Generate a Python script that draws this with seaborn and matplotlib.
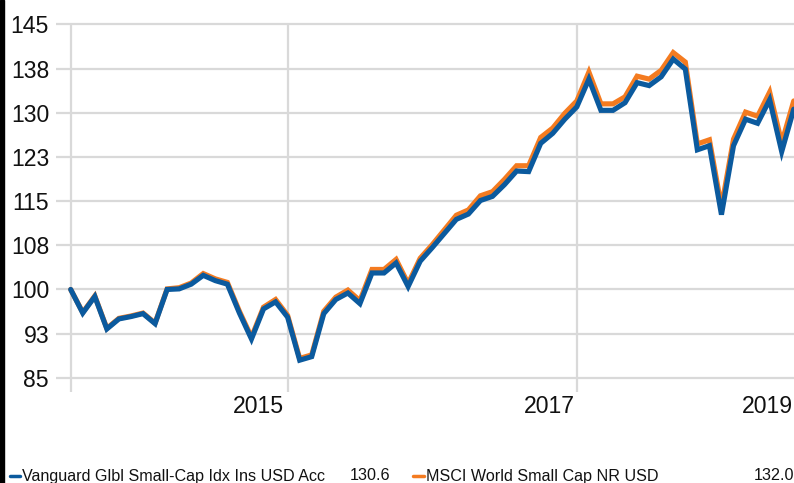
import matplotlib
matplotlib.use("Agg")
import matplotlib.pyplot as plt
from matplotlib import font_manager
from matplotlib.lines import Line2D
from matplotlib.patches import Rectangle
import seaborn as sns
import pandas as pd

# ---------------- data ----------------
months = list(range(61))
vanguard = [100.0, 96.0, 98.8, 93.3, 95.0, 95.4, 95.9, 94.2, 100.0, 100.1,
            100.9, 102.4, 101.5, 100.9, 96.0, 91.6, 96.7, 97.9, 95.3, 88.0,
            88.6, 95.9, 98.3, 99.4, 97.6, 102.8, 102.8, 104.5, 100.5, 104.8,
            107.1, 109.5, 111.9, 112.8, 115.1, 115.8, 117.8, 120.1, 120.0, 124.8,
            126.5, 128.9, 131.0, 135.7, 130.4, 130.4, 131.7, 135.1, 134.6, 136.1,
            139.1, 137.4, 123.7, 124.4, 112.7, 124.4, 128.9, 128.2, 132.2, 123.4,
            130.6]
msci = [100.0, 96.1, 98.9, 93.4, 95.1, 95.5, 96.0, 94.3, 100.1, 100.3,
        101.1, 102.7, 101.8, 101.2, 96.3, 91.9, 97.0, 98.3, 95.6, 88.3,
        88.9, 96.3, 98.7, 99.9, 98.1, 103.4, 103.4, 105.1, 101.0, 105.3,
        107.6, 110.1, 112.6, 113.5, 115.9, 116.6, 118.7, 121.0, 121.0, 125.8,
        127.4, 129.9, 132.0, 136.9, 131.5, 131.5, 132.7, 136.2, 135.7, 137.2,
        140.2, 138.6, 124.7, 125.4, 114.0, 125.5, 130.1, 129.4, 133.5, 124.9,
        132.0]
series_names = ["Vanguard Glbl Small-Cap Idx Ins USD Acc", "MSCI World Small Cap NR USD"]
final_values = ["130.6", "132.0"]
ytick_values = [85, 92.5, 100, 107.5, 115, 122.5, 130, 137.5, 145]
ytick_labels = ["85", "93", "100", "108", "115", "123", "130", "138", "145"]
year_grid_months = [0, 18, 42]
year_label_months = [15.6, 39.7, 57.8]
year_labels = ["2015", "2017", "2019"]

BLUE = "#0B5A9E"
ORANGE = "#F47B20"
GRID = "#D9D9D9"

# ---------------- style ----------------
sns.set_style("white")
names = {f.name for f in font_manager.fontManager.ttflist}
base_font = "Liberation Sans" if "Liberation Sans" in names else "DejaVu Sans"
narrow_font = "Liberation Sans Narrow" if "Liberation Sans Narrow" in names else base_font
plt.rcParams["font.family"] = [base_font, "DejaVu Sans"]

fig = plt.figure(figsize=(7.94, 4.83), dpi=100)
ax = fig.add_axes([56 / 794, (483 - 392) / 483, 1 - 56 / 794, (392 - 20.2) / 483])

df = pd.DataFrame({"month": months, "Vanguard": vanguard, "MSCI": msci})
sns.lineplot(data=df, x="month", y="MSCI", color=ORANGE, linewidth=3.7, ax=ax,
             legend=False, solid_joinstyle="miter", zorder=3)
sns.lineplot(data=df, x="month", y="Vanguard", color=BLUE, linewidth=3.7, ax=ax,
             legend=False, solid_joinstyle="miter", zorder=4)

ax.set_xlim(-1.22, 60.02)
ax.set_ylim(82.6, 145.7)
for s in ax.spines.values():
    s.set_visible(False)

ax.set_yticks(ytick_values)
ax.set_yticklabels(ytick_labels)
ax.set_xticks(year_label_months)
ax.set_xticklabels(year_labels)
ax.tick_params(axis="both", length=0, labelsize=16.6, colors="#111111")
ax.tick_params(axis="y", pad=5)
ax.tick_params(axis="x", pad=2)
ax.set_xlabel("")
ax.set_ylabel("")

for v in ytick_values:
    ax.axhline(v, color=GRID, linewidth=1.6, zorder=1)
ax.vlines(year_grid_months, 82.6, 145, color=GRID, linewidth=1.6, zorder=1)

# ---------------- legend row ----------------
ly = 1 - 476 / 483
fig.add_artist(Line2D([10 / 794, 20 / 794], [ly, ly], color=BLUE, linewidth=2.5,
                      transform=fig.transFigure))
fig.add_artist(Line2D([413 / 794, 424 / 794], [ly, ly], color=ORANGE, linewidth=2.5,
                      transform=fig.transFigure))
lsize = 13 if narrow_font != base_font else 11.6
lfont = dict(fontsize=lsize, family=[narrow_font, "DejaVu Sans"], color="#111111", va="center")
fig.text(22 / 794, ly, series_names[0], ha="left", **lfont)
fig.text(390 / 794, ly, final_values[0], ha="right", **lfont)
fig.text(426 / 794, ly, series_names[1], ha="left", **lfont)
fig.text(794 / 794, ly, final_values[1], ha="right", **lfont)

# left border bar
fig.add_artist(Rectangle((0, 0), 4 / 794, 1, color="black", transform=fig.transFigure))

fig.savefig("out.png", dpi=100)
